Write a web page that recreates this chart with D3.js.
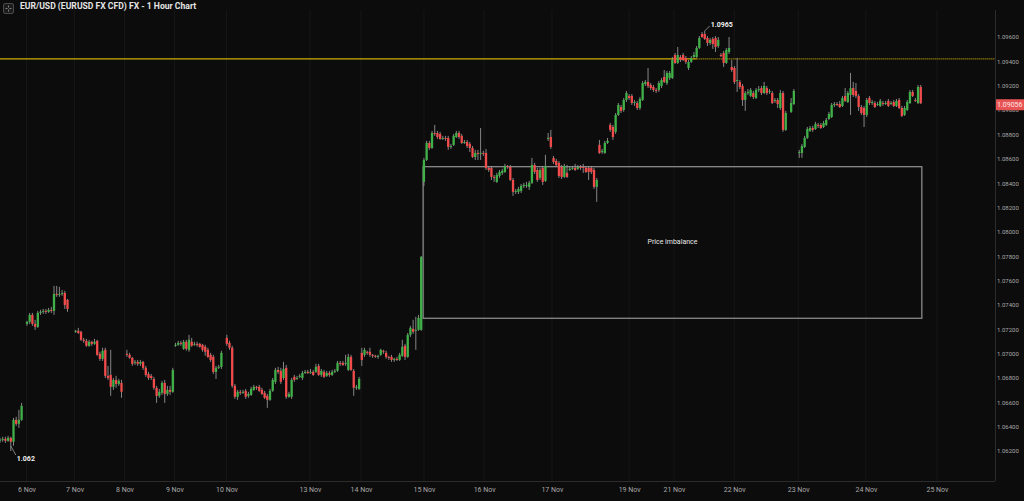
<!DOCTYPE html>
<html><head><meta charset="utf-8">
<script src="https://cdn.jsdelivr.net/npm/d3@7"></script>
<style>html,body{margin:0;padding:0;background:#0c0c0c;overflow:hidden}svg{display:block}</style>
</head><body><svg id="c" width="1024" height="501"></svg>
<script>
const chartTitle = "EUR/USD (EURUSD FX CFD) FX - 1 Hour Chart";
// [hour index, open, high, low, close]
const candles = [
[0,1.06284,1.06308,1.06267,1.06292],[1,1.06292,1.06317,1.06276,1.06300],[2,1.06300,1.06317,1.06267,1.06284],
[3,1.06284,1.06325,1.06276,1.06308],[4,1.06308,1.06317,1.06200,1.06276],[5,1.06276,1.06472,1.06243,1.06456],
[6,1.06456,1.06481,1.06407,1.06423],[7,1.06423,1.06538,1.06390,1.06456],[8,1.06456,1.06595,1.06448,1.06571],
[10,1.07244,1.07269,1.07228,1.07261],[11,1.07261,1.07334,1.07244,1.07318],[12,1.07318,1.07334,1.07228,1.07244],
[13,1.07244,1.07277,1.07195,1.07220],[14,1.07220,1.07351,1.07211,1.07334],[15,1.07334,1.07359,1.07318,1.07343],
[16,1.07343,1.07367,1.07326,1.07351],[17,1.07351,1.07367,1.07326,1.07343],[18,1.07343,1.07375,1.07334,1.07359],
[19,1.07359,1.07384,1.07334,1.07351],[20,1.07351,1.07556,1.07318,1.07490],[21,1.07490,1.07556,1.07466,1.07482],
[22,1.07482,1.07548,1.07466,1.07490],[23,1.07490,1.07523,1.07474,1.07498],[24,1.07498,1.07515,1.07367,1.07400],
[25,1.07441,1.07449,1.07343,1.07367],
[28,1.07179,1.07195,1.07170,1.07187],[29,1.07187,1.07211,1.07162,1.07170],[30,1.07179,1.07187,1.07105,1.07113],
[31,1.07113,1.07129,1.07088,1.07105],[32,1.07105,1.07121,1.07056,1.07064],[33,1.07064,1.07113,1.07056,1.07097],
[34,1.07097,1.07105,1.07064,1.07080],[35,1.07080,1.07121,1.07072,1.07097],[36,1.07105,1.07113,1.06982,1.06990],
[37,1.06998,1.07015,1.06940,1.06957],[38,1.06957,1.07048,1.06940,1.07023],[39,1.07031,1.07048,1.06800,1.06817],
[40,1.06817,1.06899,1.06784,1.06800],[41,1.06825,1.07031,1.06653,1.06727],[42,1.06727,1.06800,1.06702,1.06784],
[43,1.06784,1.06817,1.06719,1.06751],[44,1.06751,1.06792,1.06735,1.06776],[45,1.06759,1.06784,1.06637,1.06686],
[47,1.06998,1.07031,1.06973,1.06990],[48,1.06990,1.07006,1.06957,1.06965],[49,1.06965,1.06973,1.06899,1.06916],
[50,1.06924,1.06948,1.06907,1.06932],[51,1.06932,1.06948,1.06899,1.06916],[52,1.06916,1.06948,1.06899,1.06932],
[53,1.06932,1.06940,1.06866,1.06883],[54,1.06883,1.06899,1.06809,1.06825],[55,1.06833,1.06850,1.06784,1.06800],
[56,1.06817,1.06833,1.06784,1.06800],[57,1.06792,1.06809,1.06702,1.06719],[58,1.06719,1.06735,1.06595,1.06653],
[59,1.06653,1.06710,1.06637,1.06686],[60,1.06678,1.06776,1.06661,1.06759],[61,1.06759,1.06784,1.06595,1.06669],
[62,1.06669,1.06735,1.06653,1.06702],[63,1.06702,1.06735,1.06661,1.06686],[64,1.06686,1.06883,1.06678,1.06866],
[65,1.07064,1.07088,1.07056,1.07072],[66,1.07072,1.07105,1.07064,1.07088],[67,1.07088,1.07105,1.07064,1.07080],
[68,1.07039,1.07113,1.07031,1.07097],[69,1.07097,1.07113,1.07023,1.07039],[70,1.07031,1.07154,1.07015,1.07113],
[71,1.07097,1.07129,1.07056,1.07064],[72,1.07072,1.07097,1.07064,1.07080],[73,1.07080,1.07097,1.07056,1.07072],
[74,1.07080,1.07088,1.07048,1.07056],[75,1.07072,1.07080,1.07015,1.07031],[76,1.07056,1.07072,1.06982,1.07015],
[77,1.07031,1.07048,1.06965,1.06973],[78,1.06990,1.07006,1.06932,1.06948],[79,1.06973,1.06990,1.06833,1.06850],
[80,1.06850,1.06899,1.06792,1.06883],[81,1.06883,1.06907,1.06874,1.06891],[82,1.06891,1.07023,1.06874,1.07006],
[84,1.07129,1.07154,1.07064,1.07080],[85,1.07088,1.07105,1.07031,1.07048],[86,1.07048,1.07064,1.06719,1.06735],
[87,1.06735,1.06751,1.06628,1.06645],[88,1.06645,1.06702,1.06620,1.06686],[89,1.06686,1.06702,1.06661,1.06678],
[90,1.06678,1.06702,1.06669,1.06686],[91,1.06694,1.06710,1.06628,1.06645],[92,1.06653,1.06686,1.06637,1.06669],
[93,1.06661,1.06727,1.06653,1.06710],[94,1.06702,1.06743,1.06694,1.06727],[95,1.06727,1.06735,1.06702,1.06719],
[96,1.06727,1.06743,1.06686,1.06694],[97,1.06702,1.06719,1.06661,1.06669],[98,1.06678,1.06694,1.06628,1.06637],
[99,1.06653,1.06669,1.06554,1.06620],[100,1.06620,1.06710,1.06612,1.06694],[101,1.06694,1.06800,1.06686,1.06784],
[102,1.06768,1.06883,1.06751,1.06866],[103,1.06866,1.06891,1.06833,1.06850],[104,1.06858,1.06883,1.06751,1.06768],
[105,1.06800,1.06932,1.06784,1.06874],[106,1.06883,1.06907,1.06628,1.06645],[107,1.06645,1.06686,1.06637,1.06669],
[108,1.06645,1.06800,1.06628,1.06784],[109,1.06809,1.06825,1.06768,1.06784],[110,1.06792,1.06817,1.06784,1.06800],
[111,1.06809,1.06833,1.06800,1.06817],[112,1.06800,1.06858,1.06784,1.06841],[113,1.06841,1.06866,1.06833,1.06850],
[114,1.06850,1.06866,1.06833,1.06841],[115,1.06841,1.06874,1.06833,1.06850],[116,1.06850,1.06866,1.06817,1.06825],
[117,1.06850,1.06916,1.06841,1.06891],[118,1.06899,1.06916,1.06817,1.06825],[119,1.06825,1.06874,1.06809,1.06858],
[120,1.06850,1.06866,1.06800,1.06809],[121,1.06817,1.06858,1.06809,1.06841],[122,1.06841,1.06858,1.06809,1.06825],
[123,1.06825,1.06866,1.06817,1.06850],[124,1.06850,1.06874,1.06841,1.06858],[125,1.06858,1.06940,1.06850,1.06924],
[126,1.06924,1.06940,1.06899,1.06916],[127,1.06924,1.06940,1.06899,1.06907],[128,1.06916,1.06990,1.06899,1.06924],
[129,1.06866,1.06998,1.06858,1.06973],[130,1.06973,1.06990,1.06858,1.06866],[131,1.06858,1.06874,1.06653,1.06719],
[132,1.06719,1.06743,1.06702,1.06727],[133,1.06710,1.06809,1.06702,1.06792],
[134,1.07006,1.07048,1.06899,1.06948],[135,1.06990,1.07048,1.06973,1.07031],[136,1.07015,1.07023,1.06990,1.07006],
[137,1.07015,1.07048,1.06973,1.06990],[138,1.06990,1.06998,1.06965,1.06982],[139,1.06982,1.06990,1.06965,1.06973],
[140,1.06973,1.06990,1.06957,1.06982],[141,1.06990,1.07039,1.06982,1.07031],[142,1.07023,1.07031,1.06998,1.07015],
[143,1.07006,1.07023,1.06957,1.06973],[144,1.06973,1.06982,1.06948,1.06965],[145,1.06973,1.06990,1.06932,1.06948],
[146,1.06948,1.06965,1.06932,1.06957],[147,1.06957,1.06973,1.06940,1.06948],[148,1.06948,1.07006,1.06940,1.06990],
[149,1.06982,1.07113,1.06973,1.07056],[150,1.07064,1.07080,1.06948,1.06973],[151,1.06973,1.07170,1.06965,1.07154],
[152,1.07154,1.07228,1.07137,1.07211],[153,1.07203,1.07277,1.07162,1.07179],[154,1.07187,1.07302,1.07031,1.07195],
[155,1.07195,1.07318,1.07187,1.07293],[156,1.07195,1.07802,1.07187,1.07794],
[157,1.08410,1.08607,1.08377,1.08590],[158,1.08590,1.08747,1.08582,1.08730],[159,1.08730,1.08747,1.08673,1.08689],
[160,1.08689,1.08829,1.08681,1.08812],[161,1.08812,1.08878,1.08788,1.08804],[162,1.08812,1.08829,1.08763,1.08779],
[163,1.08804,1.08821,1.08755,1.08763],[164,1.08763,1.08788,1.08755,1.08771],[165,1.08771,1.08788,1.08747,1.08763],
[166,1.08771,1.08788,1.08673,1.08697],[167,1.08697,1.08722,1.08681,1.08705],[168,1.08714,1.08804,1.08705,1.08788],
[169,1.08779,1.08829,1.08771,1.08812],[170,1.08812,1.08829,1.08763,1.08779],[171,1.08788,1.08804,1.08722,1.08730],
[172,1.08730,1.08755,1.08722,1.08738],[173,1.08738,1.08755,1.08689,1.08705],[174,1.08722,1.08738,1.08656,1.08689],
[175,1.08689,1.08705,1.08607,1.08615],[176,1.08615,1.08673,1.08590,1.08648],[177,1.08648,1.08673,1.08590,1.08640],
[178,1.08640,1.08853,1.08590,1.08648],[179,1.08648,1.08665,1.08623,1.08640],[180,1.08648,1.08681,1.08508,1.08525],
[181,1.08525,1.08541,1.08492,1.08508],[182,1.08525,1.08541,1.08426,1.08451],[183,1.08451,1.08467,1.08410,1.08443],
[184,1.08410,1.08484,1.08402,1.08467],[185,1.08459,1.08508,1.08443,1.08492],[186,1.08484,1.08517,1.08467,1.08500],
[187,1.08492,1.08558,1.08484,1.08541],[188,1.08541,1.08549,1.08517,1.08533],[189,1.08533,1.08549,1.08418,1.08426],
[190,1.08426,1.08443,1.08295,1.08328],[191,1.08328,1.08352,1.08311,1.08336],[192,1.08328,1.08369,1.08311,1.08352],
[193,1.08336,1.08393,1.08319,1.08377],[194,1.08377,1.08402,1.08361,1.08385],[195,1.08377,1.08410,1.08361,1.08385],
[196,1.08369,1.08418,1.08344,1.08402],[197,1.08402,1.08607,1.08393,1.08549],[198,1.08549,1.08566,1.08475,1.08492],
[199,1.08508,1.08525,1.08410,1.08426],[200,1.08443,1.08525,1.08426,1.08508],[201,1.08525,1.08541,1.08385,1.08410],
[202,1.08418,1.08632,1.08410,1.08541],[203,1.08763,1.08812,1.08747,1.08771],[204,1.08779,1.08837,1.08681,1.08697],
[205,1.08607,1.08623,1.08558,1.08574],[206,1.08582,1.08599,1.08533,1.08549],[207,1.08566,1.08582,1.08443,1.08459],
[208,1.08533,1.08549,1.08434,1.08451],[209,1.08451,1.08558,1.08443,1.08541],[210,1.08484,1.08549,1.08443,1.08451],
[211,1.08508,1.08533,1.08500,1.08517],[212,1.08517,1.08541,1.08508,1.08525],[213,1.08525,1.08558,1.08500,1.08508],
[214,1.08517,1.08549,1.08508,1.08533],[215,1.08533,1.08549,1.08508,1.08525],[216,1.08533,1.08558,1.08484,1.08525],
[217,1.08525,1.08541,1.08484,1.08492],[218,1.08525,1.08541,1.08426,1.08492],[219,1.08525,1.08541,1.08475,1.08492],
[220,1.08508,1.08525,1.08352,1.08369],[221,1.08369,1.08443,1.08246,1.08426],
[222,1.08714,1.08755,1.08640,1.08648],[223,1.08656,1.08681,1.08640,1.08665],[224,1.08648,1.08747,1.08640,1.08730],
[225,1.08730,1.08771,1.08722,1.08747],[226,1.08878,1.08894,1.08821,1.08837],[227,1.08861,1.08878,1.08755,1.08779],
[228,1.08821,1.08976,1.08804,1.08960],[229,1.08960,1.09058,1.08952,1.09042],[230,1.09025,1.09042,1.08976,1.08993],
[231,1.09001,1.09099,1.08985,1.09083],[232,1.09083,1.09157,1.09066,1.09140],[233,1.09116,1.09132,1.09083,1.09099],
[234,1.09116,1.09132,1.09042,1.09058],[235,1.09058,1.09083,1.09034,1.09066],[236,1.09058,1.09075,1.09001,1.09017],
[237,1.09017,1.09107,1.09001,1.09091],[238,1.09083,1.09239,1.09075,1.09222],[239,1.09214,1.09247,1.09198,1.09231],
[240,1.09231,1.09346,1.09181,1.09198],[241,1.09206,1.09222,1.09165,1.09181],[242,1.09190,1.09206,1.09149,1.09165],
[243,1.09165,1.09181,1.09140,1.09157],[244,1.09165,1.09239,1.09149,1.09222],[245,1.09198,1.09264,1.09181,1.09247],
[246,1.09272,1.09329,1.09222,1.09231],[247,1.09222,1.09321,1.09206,1.09305],[248,1.09264,1.09321,1.09247,1.09305],
[249,1.09264,1.09436,1.09255,1.09411],[250,1.09452,1.09469,1.09379,1.09387],[251,1.09387,1.09518,1.09379,1.09452],
[252,1.09436,1.09452,1.09395,1.09411],[253,1.09452,1.09469,1.09403,1.09411],[254,1.09428,1.09444,1.09379,1.09395],
[255,1.09346,1.09411,1.09329,1.09395],[256,1.09395,1.09444,1.09387,1.09428],[257,1.09436,1.09477,1.09428,1.09452],
[258,1.09436,1.09526,1.09428,1.09510],[259,1.09510,1.09608,1.09502,1.09592],[260,1.09625,1.09641,1.09592,1.09600],
[261,1.09625,1.09650,1.09576,1.09584],[262,1.09592,1.09608,1.09526,1.09551],[263,1.09551,1.09592,1.09535,1.09576],
[264,1.09584,1.09600,1.09502,1.09543],[265,1.09592,1.09608,1.09477,1.09518],[266,1.09526,1.09600,1.09510,1.09576],
[267,1.09452,1.09469,1.09436,1.09444],[268,1.09469,1.09485,1.09354,1.09387],[269,1.09387,1.09510,1.09379,1.09494],
[270,1.09477,1.09600,1.09461,1.09510],[271,1.09354,1.09411,1.09313,1.09329],[272,1.09346,1.09362,1.09214,1.09231],
[273,1.09239,1.09428,1.09149,1.09247],[274,1.09231,1.09247,1.09173,1.09190],[275,1.09198,1.09214,1.09034,1.09083],
[276,1.09083,1.09157,1.08993,1.09140],[277,1.09140,1.09173,1.09124,1.09149],[278,1.09116,1.09181,1.09107,1.09165],
[279,1.09140,1.09157,1.09091,1.09107],[280,1.09099,1.09181,1.09091,1.09165],[281,1.09165,1.09198,1.09149,1.09173],
[282,1.09181,1.09198,1.09124,1.09140],[283,1.09140,1.09231,1.09132,1.09198],[284,1.09181,1.09198,1.09124,1.09140],
[285,1.09149,1.09173,1.09132,1.09157],[286,1.09140,1.09157,1.09050,1.09058],[287,1.09075,1.09099,1.09058,1.09083],
[288,1.09083,1.09099,1.09017,1.09050],[289,1.09017,1.09165,1.09001,1.09140],[290,1.09140,1.09157,1.08821,1.08837],
[291,1.08837,1.08993,1.08829,1.08976],[293,1.08985,1.09099,1.08976,1.09058],[294,1.09050,1.09173,1.09042,1.09157],
[296,1.08648,1.08673,1.08607,1.08656],[297,1.08648,1.08722,1.08607,1.08705],[298,1.08697,1.08788,1.08689,1.08771],
[299,1.08771,1.08861,1.08763,1.08845],[300,1.08829,1.08870,1.08821,1.08853],[301,1.08853,1.08870,1.08821,1.08837],
[302,1.08845,1.08903,1.08837,1.08886],[303,1.08878,1.08894,1.08853,1.08870],[304,1.08878,1.08894,1.08845,1.08853],
[305,1.08861,1.08911,1.08853,1.08894],[306,1.08878,1.08935,1.08870,1.08919],[307,1.08927,1.08985,1.08919,1.08968],
[308,1.08943,1.09058,1.08935,1.09042],[309,1.09042,1.09066,1.09025,1.09050],[310,1.09050,1.09066,1.09034,1.09042],
[311,1.09050,1.09075,1.09017,1.09025],[312,1.09034,1.09116,1.09025,1.09099],[313,1.09116,1.09181,1.09066,1.09075],
[314,1.09066,1.09157,1.09058,1.09140],[315,1.09124,1.09305,1.08960,1.09181],[316,1.09181,1.09231,1.09107,1.09124],
[317,1.09157,1.09222,1.09099,1.09116],[318,1.09116,1.09132,1.08993,1.09025],[319,1.09025,1.09042,1.08960,1.08976],
[320,1.09017,1.09034,1.08861,1.08960],[321,1.08960,1.09099,1.08943,1.09083],[322,1.09099,1.09116,1.09042,1.09058],
[323,1.09058,1.09083,1.09042,1.09066],[324,1.09058,1.09075,1.09017,1.09025],[325,1.09042,1.09066,1.09034,1.09050],
[326,1.09034,1.09091,1.09025,1.09075],[327,1.09058,1.09075,1.09034,1.09050],[328,1.09050,1.09075,1.09042,1.09058],
[329,1.09075,1.09091,1.09025,1.09034],[330,1.09050,1.09075,1.09042,1.09058],[331,1.09066,1.09083,1.09025,1.09034],
[332,1.09034,1.09091,1.09025,1.09075],[333,1.09083,1.09099,1.09009,1.09017],[334,1.09017,1.09034,1.08943,1.08952],
[335,1.08960,1.09034,1.08952,1.09017],[336,1.09001,1.09083,1.08993,1.09066],[337,1.09058,1.09165,1.09050,1.09149],
[338,1.09149,1.09165,1.09107,1.09116],[339,1.09083,1.09099,1.09066,1.09075],[340,1.09058,1.09206,1.09050,1.09190],
[341,1.09190,1.09206,1.09050,1.09056]
];
const priceTicks = [1.062,1.064,1.066,1.068,1.070,1.072,1.074,1.076,1.078,1.080,1.082,1.084,1.086,1.088,1.090,1.092,1.094,1.096];
const dayTickHours = [9.8,27.6,46.1,64.6,83.9,114.8,133.7,157,179.3,204.4,233,249.6,271.9,295.6,320.7,347];
const dayTickLabels = ["6 Nov","7 Nov","8 Nov","9 Nov","10 Nov","13 Nov","14 Nov","15 Nov","16 Nov","17 Nov","19 Nov","21 Nov","22 Nov","23 Nov","24 Nov","25 Nov"];
const lastPrice = 1.09056;
const levelPrice = 1.0942;
const levelSolidUntilHour = 258;
const zoneHours = [156.7, 341.4];
const zonePrices = [1.0729, 1.08535];
const zoneLabel = "Price imbalance";

const W = 1024, H = 501, plotRight = 995, plotBottom = 481;
const FONT = "Roboto, 'DejaVu Sans', sans-serif";
const x = d3.scaleLinear().domain([0, 368.5]).range([0, plotRight]);
const y = d3.scaleLinear().domain([1.062, 1.096]).range([451, 37]);

const svg = d3.select('#c');
svg.append('rect').attr('width', W).attr('height', H).attr('fill', '#0c0c0c');
svg.append('clipPath').attr('id', 'plot').append('rect')
  .attr('x', 0).attr('y', 0).attr('width', plotRight).attr('height', plotBottom);

// vertical grid
svg.append('g').selectAll('line').data(dayTickHours).join('line')
  .attr('x1', d => x(d)).attr('x2', d => x(d)).attr('y1', 10).attr('y2', plotBottom)
  .attr('stroke', '#171717').attr('stroke-width', 1);

// axes frame lines
svg.append('line').attr('x1', 0).attr('x2', plotRight).attr('y1', plotBottom + 0.5).attr('y2', plotBottom + 0.5)
  .attr('stroke', '#2c2c2c');
svg.append('line').attr('x1', plotRight + 0.5).attr('x2', plotRight + 0.5).attr('y1', 10).attr('y2', plotBottom)
  .attr('stroke', '#2c2c2c');

// right axis
const yAxis = d3.axisRight(y).tickValues(priceTicks).tickFormat(d3.format('.5f')).tickSize(0).tickPadding(2);
const ya = svg.append('g').attr('transform', `translate(${plotRight},0)`).call(yAxis);
ya.select('.domain').remove();
ya.selectAll('text').attr('fill', '#a8a8a8').style('font', `6px ${FONT}`);

// bottom axis
const xAxis = d3.axisBottom(x).tickValues(dayTickHours).tickFormat((d, i) => dayTickLabels[i]).tickSize(0).tickPadding(6);
const xa = svg.append('g').attr('transform', `translate(0,${plotBottom})`).call(xAxis);
xa.select('.domain').remove();
xa.selectAll('text').attr('fill', '#a8a8a8').style('font', `7px ${FONT}`);

const g = svg.append('g').attr('clip-path', 'url(#plot)');

// imbalance zone
g.append('rect')
  .attr('x', x(zoneHours[0])).attr('y', y(zonePrices[1]))
  .attr('width', x(zoneHours[1]) - x(zoneHours[0])).attr('height', y(zonePrices[0]) - y(zonePrices[1]))
  .attr('fill', 'none').attr('stroke', '#8a8a8a').attr('stroke-width', 1.3);
g.append('text').attr('x', (x(zoneHours[0]) + x(zoneHours[1])) / 2).attr('y', (y(zonePrices[0]) + y(zonePrices[1])) / 2)
  .attr('text-anchor', 'middle').attr('dominant-baseline', 'middle')
  .attr('fill', '#e8e8e8').style('font', `7px ${FONT}`).text(zoneLabel);

// level line
g.append('line').attr('x1', 0).attr('x2', x(levelSolidUntilHour)).attr('y1', y(levelPrice)).attr('y2', y(levelPrice))
  .attr('stroke', '#cdae00').attr('stroke-width', 1.2);
g.append('line').attr('x1', x(levelSolidUntilHour)).attr('x2', plotRight).attr('y1', y(levelPrice)).attr('y2', y(levelPrice))
  .attr('stroke', '#c8a800').attr('stroke-width', 1.2).attr('stroke-dasharray', '1,1');

// candles
const bw = 2.3;
g.append('g').selectAll('line').data(candles).join('line')
  .attr('x1', d => x(d[0])).attr('x2', d => x(d[0]))
  .attr('y1', d => y(d[2])).attr('y2', d => y(d[3]))
  .attr('stroke', '#949494').attr('stroke-width', 0.9);
g.append('g').selectAll('rect').data(candles).join('rect')
  .attr('x', d => x(d[0]) - bw / 2)
  .attr('y', d => y(Math.max(d[1], d[4])))
  .attr('width', bw)
  .attr('height', d => Math.max(1, Math.abs(y(d[1]) - y(d[4]))))
  .attr('fill', d => d[4] > d[1] ? '#40b048' : d[4] < d[1] ? '#f24b4b' : '#aaaaaa');

// high / low annotations
const fmtAnn = d3.format('.4~f');
const hiC = candles.reduce((a, b) => b[2] > a[2] ? b : a);
const loC = candles.reduce((a, b) => b[3] < a[3] ? b : a);
const ann = svg.append('g');
ann.append('path').attr('d', `M${x(hiC[0])},${y(hiC[2])} L${x(hiC[0]) + 5},${y(hiC[2]) - 5}`)
  .attr('stroke', '#9a9a9a').attr('fill', 'none').attr('stroke-width', 0.8);
ann.append('text').attr('x', x(hiC[0]) + 6).attr('y', y(hiC[2]) - 6).attr('dominant-baseline', 'middle')
  .attr('fill', '#f0f0f0').style('font', `bold 7px ${FONT}`).text(fmtAnn(hiC[2]));
ann.append('path').attr('d', `M${x(loC[0])},${y(loC[3]) - 5} L${x(loC[0]) + 5},${y(loC[3]) + 4}`)
  .attr('stroke', '#9a9a9a').attr('fill', 'none').attr('stroke-width', 0.8);
ann.append('text').attr('x', x(loC[0]) + 6).attr('y', y(loC[3]) + 8).attr('dominant-baseline', 'middle')
  .attr('fill', '#f0f0f0').style('font', `bold 7px ${FONT}`).text(fmtAnn(loC[3]));

// last price label
svg.append('rect').attr('x', plotRight + 1).attr('y', y(lastPrice) - 4).attr('width', W - plotRight - 1).attr('height', 11)
  .attr('fill', '#e85454');
svg.append('text').attr('x', plotRight + 2).attr('y', y(lastPrice) + 1.5).attr('dominant-baseline', 'middle')
  .attr('fill', '#ffe4e4').style('font', `7px ${FONT}`).text(d3.format('.5f')(lastPrice));

// title + icon
svg.append('rect').attr('x', 3.5).attr('y', 3.5).attr('width', 10).attr('height', 10).attr('rx', 1.5)
  .attr('fill', '#1c1c1c').attr('stroke', '#4a4a4a');
const ic = svg.append('g').attr('stroke', '#9a9a9a').attr('stroke-width', 0.8);
[[8.5,5.5,8.5,7.5],[8.5,9.5,8.5,11.5],[5.5,8.5,7.5,8.5],[9.5,8.5,11.5,8.5]].forEach(s =>
  ic.append('line').attr('x1', s[0]).attr('y1', s[1]).attr('x2', s[2]).attr('y2', s[3]));
svg.append('text').attr('x', 20).attr('y', 9.3).attr('fill', '#e4e4e4')
  .style('font', `bold 8.6px ${FONT}`).text(chartTitle);
</script></body></html>
